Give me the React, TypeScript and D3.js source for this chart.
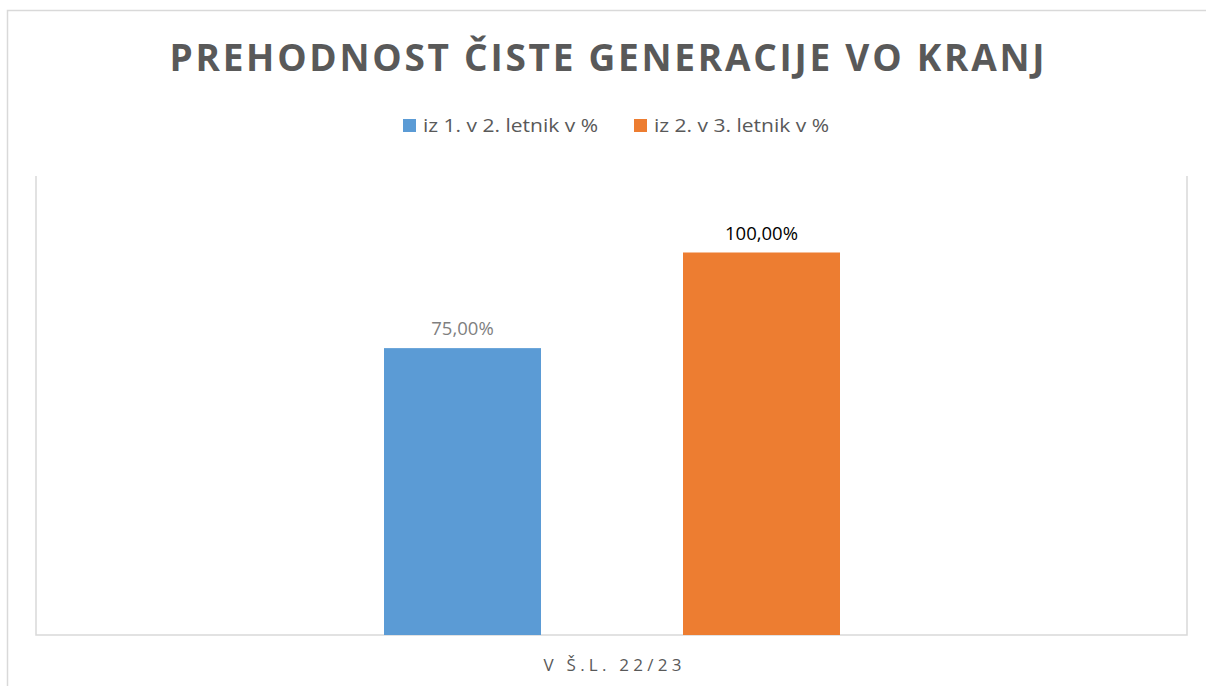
import React from "react";
import * as d3 from "d3";

const title = "PREHODNOST ČISTE GENERACIJE VO KRANJ";
const categories = ["V Š.L. 22/23"];
const seriesNames = ["iz 1. v 2. letnik v %", "iz 2. v 3. letnik v %"];
const seriesValues = [0.75, 1.0];
const valueLabels = ["75,00%", "100,00%"];
const colors = ["#5B9BD5", "#ED7D31"];
const labelColors = ["#7f7f7f", "#000000"];

const W = 1206;
const H = 686;
const plot = { left: 36, right: 1187, top: 176, bottom: 635 };

export default function App() {
  const y = d3.scaleLinear().domain([0, 1.2]).range([plot.bottom, plot.top]);
  const x0 = d3
    .scaleBand<string>()
    .domain(categories)
    .range([plot.left, plot.right])
    .paddingInner(0)
    .paddingOuter(0);
  const x1 = d3
    .scaleBand<string>()
    .domain(seriesNames)
    .range([348, 1187 - 311])
    .paddingInner(0.9 / 2.05 * 0.95)
    .paddingOuter(0.23);

  // Explicit band so that bars land at 384-541 and 683-840
  const inner = d3
    .scaleBand<string>()
    .domain(seriesNames)
    .range([384 - 0, 840])
    .paddingInner(142 / (157 + 142 / 1))
    .paddingOuter(0);

  const font = "'Open Sans', 'Liberation Sans', sans-serif";
  const cat = categories[0];
  const cx = (x0(cat) ?? 0) + x0.bandwidth() / 2;

  return (
    <svg
      width={W}
      height={H}
      style={{ position: "absolute", left: 0, top: 0, background: "#fff" }}
    >
      <rect x={0} y={0} width={W} height={H} fill="#fff" />
      <rect
        x={7.5}
        y={10.5}
        width={1210}
        height={700}
        fill="#fff"
        stroke="#d9d9d9"
        strokeWidth={1.5}
      />
      <text
        x={W / 2 + 4}
        y={71}
        textAnchor="middle"
        fontFamily={font}
        fontWeight={700}
        fontSize={37}
        fill="#595959"
        textLength={875}
        lengthAdjust="spacing"
      >
        {title}
      </text>

      {/* legend */}
      {seriesNames.map((s, i) => {
        const lx = i === 0 ? 403 : 634;
        return (
          <g key={s}>
            <rect x={lx} y={119} width={13} height={13} fill={colors[i]} />
            <text
              x={lx + 20}
              y={132}
              fontFamily={font}
              fontSize={18.5}
              fill="#595959"
              textLength={175}
              lengthAdjust="spacingAndGlyphs"
            >
              {s}
            </text>
          </g>
        );
      })}

      {/* plot area border */}
      <path
        d={`M${plot.left},${plot.top}V${plot.bottom}H${plot.right}V${plot.top}`}
        fill="none"
        stroke="#d9d9d9"
        strokeWidth={1.5}
      />

      {/* bars */}
      {seriesNames.map((s, i) => {
        const bx = inner(s) ?? 0;
        const bw = inner.bandwidth();
        const top = y(seriesValues[i]);
        return (
          <g key={s}>
            <rect
              x={bx}
              y={top}
              width={bw}
              height={plot.bottom - top}
              fill={colors[i]}
            />
            <text
              x={bx + bw / 2}
              y={top - 13}
              textAnchor="middle"
              fontFamily={font}
              fontSize={18.5}
              fill={labelColors[i]}
            >
              {valueLabels[i]}
            </text>
          </g>
        );
      })}

      {/* category label */}
      <text
        x={cx + 1}
        y={671}
        textAnchor="middle"
        fontFamily={font}
        fontSize={17}
        fill="#595959"
        textLength={138}
        lengthAdjust="spacing"
      >
        {cat}
      </text>
    </svg>
  );
}
